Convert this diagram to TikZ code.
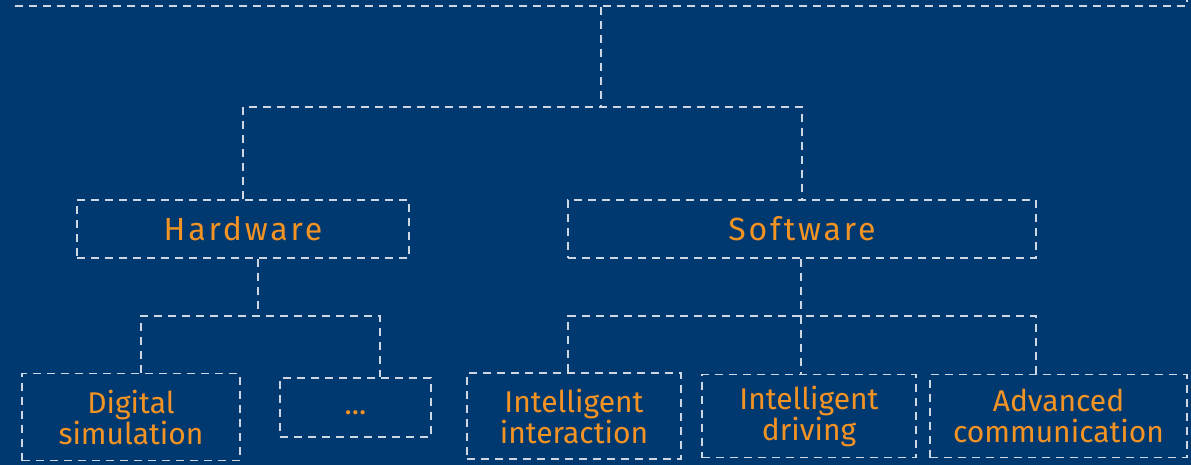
\documentclass[tikz,border=0pt]{standalone}
\usepackage{fontspec}
\setmainfont{Fira Sans}
\newfontfamily\bigfont{Fira Sans}[LetterSpace=9]
\definecolor{bgblue}{RGB}{0,57,112}
\definecolor{dashgray}{RGB}{205,216,228}
\definecolor{txtorange}{RGB}{243,147,35}
\begin{document}
\begin{tikzpicture}[x=1pt,y=-1pt,
  line/.style={draw=dashgray,line width=1.6pt,dash pattern=on 8pt off 6pt},
  box/.style={line,rectangle,inner sep=0pt,anchor=center,text=txtorange,
    font=\fontsize{30}{31}\selectfont,align=center},
  big/.style={box,font=\bigfont\fontsize{32}{33}\selectfont}]
\fill[bgblue] (0,0) rectangle (1191,465);
\useasboundingbox (0,0) rectangle (1191,465);
\begin{scope}
\clip (0,0) rectangle (1191,465);
\node[box,minimum width=1172pt,minimum height=60pt] (top) at (601,-24) {};
\end{scope}
\node[big,minimum width=332pt,minimum height=58pt] (hw) at (243,229) {Hardware};
\node[big,minimum width=468pt,minimum height=58pt] (sw) at (802,229) {Software};
\node[box,minimum width=218pt,minimum height=87pt] (dig) at (131,417) {Digital\\simulation};
\node[box,minimum width=151pt,minimum height=59pt,text height=21pt,text depth=7pt] (dots) at (355.5,407.5) {...};
\node[box,minimum width=214pt,minimum height=86pt] (ii) at (574,416) {Intelligent\\interaction};
\node[box,minimum width=214pt,minimum height=83pt] (id) at (809,416) {Intelligent\\driving};
\node[box,minimum width=257pt,minimum height=83pt] (ac) at (1058.5,416) {Advanced\\communication};
% level 1
\coordinate (j1) at (601,107);
\draw[line] (top.south) -- (j1);
\draw[line] (hw.north) |- (j1) -| (sw.north);
% hardware branch
\coordinate (hj) at (258,316);
\draw[line] (hw.south -| hj) -- (hj);
\draw[line] (dig.north -| 141,0) |- (hj) -| (dots.north -| 380,0);
% software branch
\coordinate (sj) at (801,316);
\draw[line] (sw.south -| sj) -- (sj);
\draw[line] (ii.north -| 568,0) |- (sj) -| (ac.north -| 1036,0);
\draw[line] (sj) -- (id.north -| sj);
\end{tikzpicture}
\end{document}
